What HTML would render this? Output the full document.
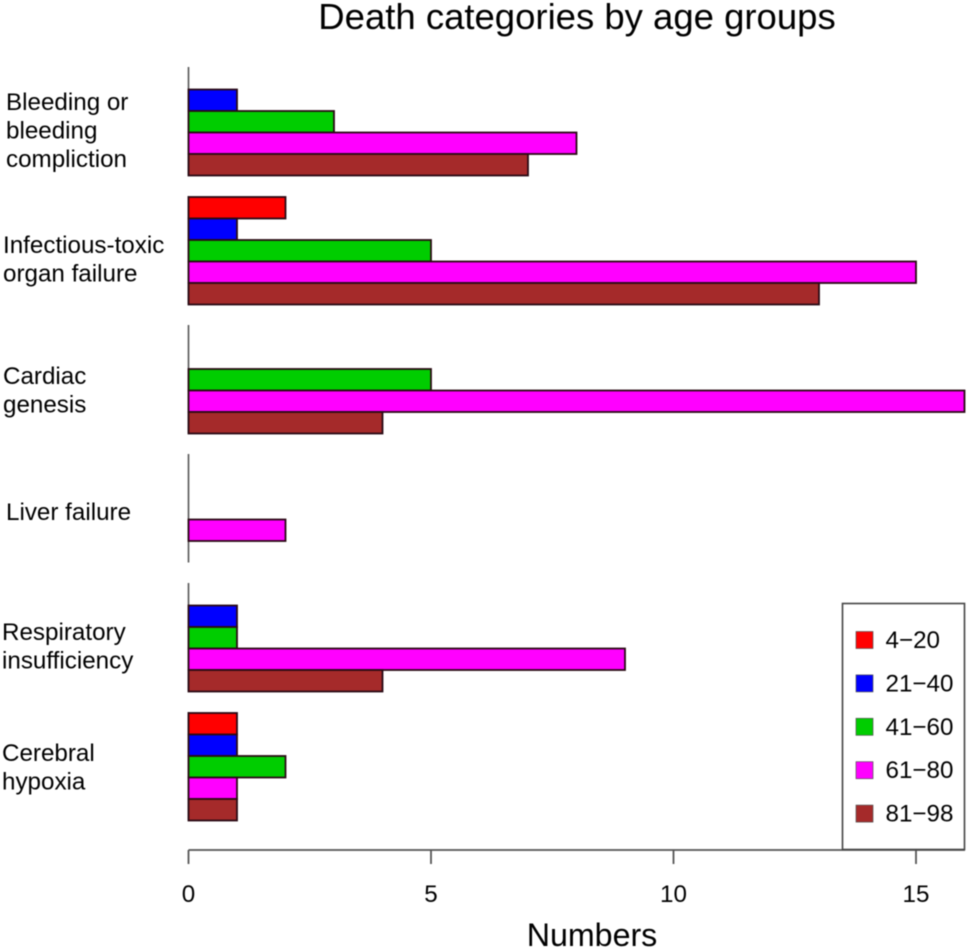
<!DOCTYPE html>
<html>
<head>
<meta charset="utf-8">
<title>Death categories by age groups</title>
<style>
html,body{margin:0;padding:0;background:#fff;width:968px;height:950px;overflow:hidden}
svg{display:block;filter:blur(0.45px)}
text{font-family:"Liberation Sans",sans-serif;fill:#000}
</style>
</head>
<body>
<svg id="chart" width="968" height="950" viewBox="0 0 968 950" xmlns="http://www.w3.org/2000/svg">
<text x="577" y="29" text-anchor="middle" font-size="36.5">Death categories by age groups</text>
<text x="592" y="946" text-anchor="middle" font-size="32.2">Numbers</text>
<g id="bars"></g>
<g id="axis"></g>
<g id="cats"></g>
<g id="legend"></g>
</svg>
<script>
const categories = ['Bleeding or bleeding compliction', 'Infectious-toxic organ failure', 'Cardiac genesis', 'Liver failure', 'Respiratory insufficiency', 'Cerebral hypoxia'];
const categoryLines = [['Bleeding or', 'bleeding', 'compliction'], ['Infectious-toxic', 'organ failure'], ['Cardiac', 'genesis'], ['Liver failure'], ['Respiratory', 'insufficiency'], ['Cerebral', 'hypoxia']];
const ageGroups = ['4\u221220', '21\u221240', '41\u221260', '61\u221280', '81\u221298'];
const seriesAge4to20 = [0, 2, 0, 0, 0, 1];
const seriesAge21to40 = [1, 1, 0, 0, 1, 1];
const seriesAge41to60 = [3, 5, 5, 0, 1, 2];
const seriesAge61to80 = [8, 15, 16, 2, 9, 1];
const seriesAge81to98 = [7, 13, 4, 0, 4, 1];
const xTicks = [0, 5, 10, 15];

const allSeries = [seriesAge4to20, seriesAge21to40, seriesAge41to60, seriesAge61to80, seriesAge81to98];
const seriesColors = ['#ff0000', '#0000ff', '#00cd00', '#ff00ff', '#a52a2a'];
const labelX = [6, 3, 3, 6, 2, 2];
const labelY = [110, 253, 384, 520, 640, 761];

const NS = 'http://www.w3.org/2000/svg';
const xScale = v => 188.5 + v * 48.5;
const groupTop = g => 68 + g * 129;
const barHeight = 21.5;
const barY = (g, s) => groupTop(g) + s * barHeight;

function make(tag, attrs, parent) {
  const el = document.createElementNS(NS, tag);
  for (const k in attrs) el.setAttribute(k, attrs[k]);
  parent.appendChild(el);
  return el;
}

const barsG = document.getElementById('bars');
categories.forEach((cat, g) => {
  const base = make('line', {x1: xScale(0), x2: xScale(0), y1: groupTop(g) - 1, y2: groupTop(g) + 5 * barHeight, stroke: '#555', 'stroke-width': 1.6}, barsG);
  
  
  allSeries.forEach((vals, s) => {
    const r = make('rect', {x: xScale(0), y: barY(g, s), width: xScale(vals[g]) - xScale(0), height: barHeight, fill: seriesColors[s], stroke: '#2a0a14', 'stroke-width': 1.8}, barsG);
    
    
  });
});

const axisG = document.getElementById('axis');
const axisLine = make('line', {x1: xScale(xTicks[0]), x2: 965, y1: 850, y2: 850, stroke: '#555', 'stroke-width': 1.8}, axisG);


xTicks.forEach(t => {
  const tk = make('line', {x1: xScale(t), x2: xScale(t), y1: 850, y2: 864, stroke: '#555', 'stroke-width': 1.8}, axisG);
  
  
  const lb = make('text', {x: xScale(t), y: 902, 'text-anchor': 'middle', 'font-size': 24.2}, axisG);
  lb.textContent = t;
  
  
});

const catsG = document.getElementById('cats');
categoryLines.forEach((lines, g) => {
  lines.forEach((line, i) => {
    const t = make('text', {x: labelX[g], y: labelY[g] + i * 28.5, 'font-size': 24.2}, catsG);
    t.textContent = line;
    
    
  });
});

const legendG = document.getElementById('legend');
const box = make('rect', {x: 842.5, y: 603.5, width: 122, height: 246, fill: '#fff', stroke: '#444', 'stroke-width': 1.6}, legendG);


ageGroups.forEach((name, s) => {
  const y = 631.5 + s * 43.4;
  const sw = make('rect', {x: 856, y: y, width: 17, height: 17, fill: seriesColors[s], stroke: '#555', 'stroke-width': 0.7}, legendG);
  
  
  const tx = make('text', {x: 885.5, y: y + 16.5, 'font-size': 24.2}, legendG);
  tx.textContent = name;
  
  
});
</script>
</body>
</html>
